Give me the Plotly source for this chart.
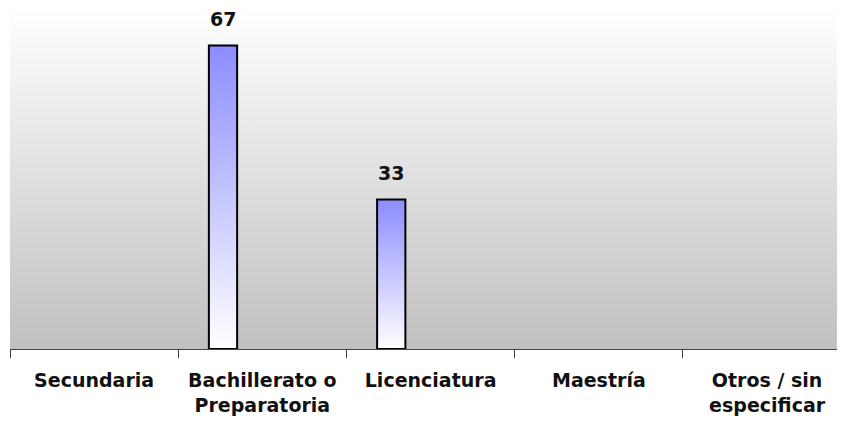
import plotly.graph_objects as go

categories = ["Secundaria", "Bachillerato o Preparatoria", "Licenciatura", "Maestría", "Otros / sin especificar"]
tick_labels = ["Secundaria", "Bachillerato o<br>Preparatoria", "Licenciatura", "Maestría", "Otros / sin<br>especificar"]
values = [0, 67, 33, 0, 0]

Y_MAX = 75.3
X_MIN, X_MAX = -0.5, 4.463
BAR_OFFSET = -0.318
BAR_WIDTH = 0.168
FONT = "DejaVu Sans"

fig = go.Figure()

# background gradient of the plot area
fig.add_trace(go.Scatter(
    x=[X_MIN, X_MAX, X_MAX, X_MIN, X_MIN], y=[0, 0, Y_MAX, Y_MAX, 0],
    mode="lines", line=dict(width=0), fill="toself",
    fillgradient=dict(type="vertical", colorscale=[[0, "#c0c0c0"], [1, "#ffffff"]]),
    hoverinfo="skip", showlegend=False, xaxis="x", yaxis="y",
))

xs = list(range(len(categories)))

# gradient fills of the bars
for i, v in zip(xs, values):
    if v <= 0:
        continue
    x0 = i + BAR_OFFSET
    x1 = x0 + BAR_WIDTH
    fig.add_trace(go.Scatter(
        x=[x0, x0, x1, x1, x0], y=[0, v, v, 0, 0],
        mode="lines", line=dict(width=0), fill="toself",
        fillgradient=dict(type="vertical", colorscale=[[0, "#ffffff"], [1, "#8c8cff"]]),
        hoverinfo="skip", showlegend=False, xaxis="x", yaxis="y",
    ))

# bar outlines (on overlay axes so they sit above the gradient fills)
nz_x = [i for i, v in zip(xs, values) if v > 0]
nz_v = [v for v in values if v > 0]
fig.add_trace(go.Bar(
    x=nz_x, y=nz_v, width=BAR_WIDTH, offset=BAR_OFFSET,
    marker=dict(color="rgba(0,0,0,0)", line=dict(color="#000000", width=2)),
    showlegend=False, xaxis="x2", yaxis="y2", hoverinfo="skip",
))

for i, v in zip(xs, values):
    if v <= 0:
        continue
    fig.add_annotation(
        x=i + BAR_OFFSET + BAR_WIDTH / 2, y=v, xref="x2", yref="y2",
        text=str(v), showarrow=False, yanchor="bottom", yshift=14,
        font=dict(family=FONT, size=19, color="#111111", weight="bold"),
    )

boundaries = [i - 0.5 for i in range(len(categories) + 1)]

fig.update_layout(
    width=837, height=411,
    margin=dict(l=2, r=0, t=0, b=70),
    paper_bgcolor="#ffffff", plot_bgcolor="rgba(0,0,0,0)",
    xaxis=dict(
        range=[X_MIN, X_MAX], tickmode="array", tickvals=xs, ticktext=tick_labels,
        ticks="", showgrid=False, zeroline=False, showline=True,
        linecolor="#444444", linewidth=1, automargin=False,
        tickfont=dict(family=FONT, size=19, color="#111111", weight="bold"),
        minor=dict(tickmode="array", tickvals=boundaries, ticks="outside",
                   ticklen=8, tickcolor="#444444", tickwidth=1, showgrid=False),
        ticklabelstandoff=14,
    ),
    yaxis=dict(range=[0, Y_MAX], visible=False, showgrid=False, zeroline=False, automargin=False),
    xaxis2=dict(range=[X_MIN, X_MAX], overlaying="x", visible=False, showgrid=False, zeroline=False),
    yaxis2=dict(range=[0, Y_MAX], overlaying="y", visible=False, showgrid=False, zeroline=False),
)

fig.write_html("out.html")
